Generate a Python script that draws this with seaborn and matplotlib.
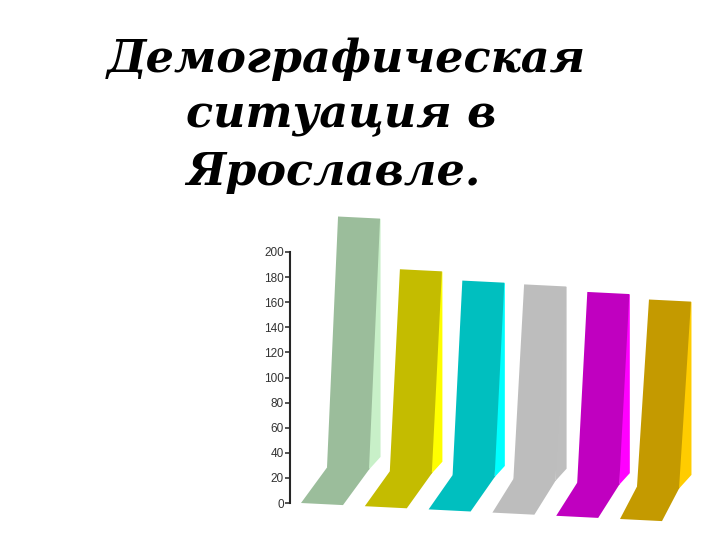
import numpy as np
import matplotlib
matplotlib.use("Agg")
import matplotlib.pyplot as plt
from matplotlib.transforms import Affine2D
import seaborn as sns

# datos
categorias = ["a", "b", "c", "d", "e", "f"]
valores = [200, 161, 155, 155, 152, 149]
ticks_y = [0, 20, 40, 60, 80, 100, 120, 140, 160, 180, 200]
titulo = ["Демографическая", "ситуация в", "Ярославле."]

color_frente = ["#9BBD9B", "#C4BC00", "#00BFBF", "#BDBDBD", "#C000C0", "#C49A00"]
color_lado = ["#C8F0C8", "#FFFF00", "#00FFFF", "#BEBEBE", "#FF00FF", "#FFCC00"]

# geometria de la pseudo-perspectiva, en pixeles de la imagen
ALTO = 540
ESCALA = 251 / 200
ANCHO_BARRA = 42
PENDIENTE = 0.05
inclinacion = [0.044, 0.050, 0.050, 0.055, 0.053, 0.064]
suelo_dx = [26, 25, 24, 21, 21, 17]


def a_pixeles(x0, y0, ux, uy, vx, vy):
    # (x, y) de datos -> pixeles de imagen (y hacia abajo) -> pantalla
    m = np.array([[ux, vx, x0], [uy, vy, y0], [0, 0, 1]])
    return Affine2D(m) + Affine2D().scale(1, -1).translate(0, ALTO)


sns.set_style("ticks")
fig = plt.figure(figsize=(7.2, 5.4), dpi=100)
ax = fig.add_axes([289.5 / 720, (ALTO - 503) / ALTO, 400 / 720, 251 / ALTO])
ax.patch.set_alpha(0)

paleta_lado = dict(zip(categorias, color_lado))
paleta_frente = dict(zip(categorias, color_frente))

sns.barplot(x=categorias, y=valores, hue=categorias, palette=paleta_lado,
            saturation=1, width=0.6, legend=False, linewidth=0, ax=ax)
sns.barplot(x=categorias, y=valores, hue=categorias, palette=paleta_frente,
            saturation=1, width=0.6, legend=False, linewidth=0, ax=ax)
sns.barplot(x=categorias, y=[1] * len(categorias), hue=categorias, palette=paleta_frente,
            saturation=1, width=0.6, legend=False, linewidth=0, ax=ax)

n = len(categorias)
lados = ax.patches[:n]
frentes = ax.patches[n:2 * n]
suelos = ax.patches[2 * n:3 * n]

for i in range(n):
    izq = i - 0.3
    sx = ANCHO_BARRA / 0.6
    suelo_x = 301 + 63.8 * i
    suelo_y = 503 + 3.2 * i
    base_x = suelo_x + suelo_dx[i]
    base_y = 467.5 + 3.8 * i

    # pared frontal inclinada
    uy = sx * PENDIENTE
    t = a_pixeles(base_x - izq * sx, base_y - izq * uy,
                  sx, uy, inclinacion[i] * ESCALA, -ESCALA)
    frentes[i].set_transform(t)

    # suelo: paralelogramo delante de la pared (solapa un poco para no dejar hueco)
    t = a_pixeles(suelo_x - izq * sx, suelo_y - izq * uy,
                  sx, uy, (base_x - suelo_x) * 1.03, (base_y - suelo_y) * 1.03)
    suelos[i].set_transform(t)

    # cara lateral clara: llega justo a la esquina superior de la pared
    corrida = inclinacion[i] * ESCALA * valores[i] + 0.5
    sx_l = corrida / 0.6
    uy_l = -1.1 * sx_l
    borde_x = base_x + ANCHO_BARRA
    borde_y = base_y + ANCHO_BARRA * PENDIENTE
    sube = corrida * 1.1
    t = a_pixeles(borde_x - izq * sx_l, borde_y - izq * uy_l,
                  sx_l, uy_l, 0, -(ESCALA - sube / valores[i]))
    lados[i].set_transform(t)

    for p in (lados[i], frentes[i], suelos[i]):
        p.set_clip_on(False)

ax.set_ylim(0, 200)
ax.set_xlim(-0.5, n - 0.5)
ax.set_yticks(ticks_y)
ax.set_xticks([])
ax.set_xlabel("")
ax.set_ylabel("")
ax.tick_params(axis="y", length=3.6, width=1.1, pad=0.5, labelsize=8.5, labelcolor="#333333")
for lbl in ax.get_yticklabels():
    lbl.set_family("Liberation Sans")
ax.spines["left"].set_linewidth(1.5)
sns.despine(ax=ax, bottom=True)

for texto, x, y in zip(titulo, [107, 186, 186], [72, 127, 185]):
    fig.text(x / 720, (ALTO - y) / ALTO, texto, family="DejaVu Serif", style="italic",
             weight="bold", fontsize=32, color="black", ha="left", va="baseline")

fig.savefig("out.png", dpi=100, facecolor="white")
